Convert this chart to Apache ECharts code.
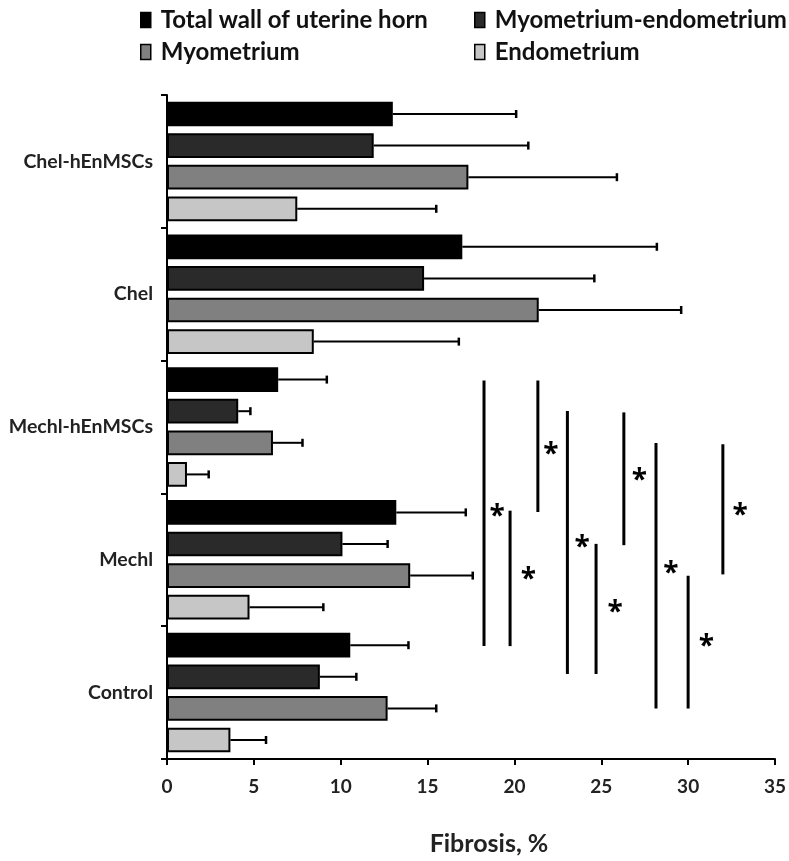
<!DOCTYPE html>
<html>
<head>
<meta charset="utf-8">
<script src="https://cdn.jsdelivr.net/npm/echarts@6/dist/echarts.min.js"></script>
<style>
  html, body { margin: 0; padding: 0; background: #fff; }
  #chart-container { width: 789px; height: 861px; }
</style>
</head>
<body>
<div id="chart-container"></div>
<script>
// groups, bottom to top as the axis draws them
const groups = ['Control', 'Mechl', 'Mechl-hEnMSCs', 'Chel', 'Chel-hEnMSCs'];
const seriesNames = ['Total wall of uterine horn', 'Myometrium-endometrium', 'Myometrium', 'Endometrium'];
const colors = ['#000000', '#2a2a2a', '#808080', '#c6c6c6'];

// mean fibrosis, % (same order as groups)
const totalWall = [10.55, 13.2, 6.4, 17.0, 13.0];
const myoEndo = [8.8, 10.1, 4.1, 14.8, 11.9];
const myometrium = [12.7, 14.0, 6.1, 21.4, 17.35];
const endometrium = [3.65, 4.75, 1.15, 8.45, 7.5];

// upper end of error bar
const totalWallErr = [13.9, 17.2, 9.2, 28.2, 20.1];
const myoEndoErr = [10.9, 12.7, 4.8, 24.6, 20.8];
const myometriumErr = [15.5, 17.6, 7.8, 29.6, 25.9];
const endometriumErr = [5.7, 9.0, 2.4, 16.8, 15.5];

const xTicks = [0, 5, 10, 15, 20, 25, 30, 35];

// significance brackets: [x, yFrom, yTo] on a 0..5 group scale
const sigLines = [
    [18.25, 0.85, 2.85],
    [19.75, 0.85, 1.87],
    [21.35, 1.86, 2.85],
    [23.05, 0.64, 2.62],
    [24.7, 0.64, 1.62],
    [26.3, 1.61, 2.61],
    [28.15, 0.38, 2.38],
    [30.0, 0.38, 1.38],
    [32.0, 1.39, 2.37]
];
const sigStars = [
    [19.0, 1.85], [20.8, 1.38], [22.1, 2.32], [23.9, 1.62], [25.8, 1.13],
    [27.2, 2.12], [29.0, 1.42], [31.05, 0.87], [33.0, 1.86]
];

const means = [totalWall, myoEndo, myometrium, endometrium];
const errs = [totalWallErr, myoEndoErr, myometriumErr, endometriumErr];

const catGap = 0.1;
const barGap = 0.28;

const errData = [];
errs.forEach((arr, s) => {
    arr.forEach((v, i) => errData.push([v, i, s, means[s][i]]));
});

const myChart = echarts.init(document.getElementById('chart-container'));

const series = [];
seriesNames.forEach((name, s) => {
    series.push({
        name: name,
        type: 'bar',
        data: means[s],
        barCategoryGap: (catGap * 100) + '%',
        barGap: (barGap * 100) + '%',
        itemStyle: { color: colors[s], borderColor: '#000', borderWidth: 2 },
        z: 2
    });
});

series.push({
    type: 'custom',
    name: 'err',
    data: errData,
    z: 3,
    silent: true,
    renderItem: function (params, api) {
        const end = api.value(0), cat = api.value(1), s = api.value(2), m = api.value(3);
        const band = api.size([0, 1])[1];
        const bw = band * (1 - catGap) / (4 + 3 * barGap);
        const total = 4 * bw + 3 * bw * barGap;
        const p0 = api.coord([m, cat]);
        const p1 = api.coord([end, cat]);
        const y = p0[1] - total / 2 + s * bw * (1 + barGap) + bw / 2;
        return {
            type: 'group',
            children: [
                { type: 'line', shape: { x1: p0[0], y1: y, x2: p1[0], y2: y }, style: { stroke: '#000', lineWidth: 2 } },
                { type: 'line', shape: { x1: p1[0], y1: y - 4, x2: p1[0], y2: y + 4 }, style: { stroke: '#000', lineWidth: 2.5 } }
            ]
        };
    }
});

series.push({
    type: 'custom',
    name: 'sig',
    yAxisIndex: 1,
    data: sigLines,
    silent: true,
    renderItem: function (params, api) {
        const a = api.coord([api.value(0), api.value(1)]);
        const b = api.coord([api.value(0), api.value(2)]);
        return { type: 'line', shape: { x1: a[0], y1: a[1], x2: b[0], y2: b[1] }, style: { stroke: '#000', lineWidth: 3 } };
    }
});

series.push({
    type: 'custom',
    name: 'stars',
    yAxisIndex: 1,
    data: sigStars,
    silent: true,
    renderItem: function (params, api) {
        const p = api.coord([api.value(0), api.value(1)]);
        return {
            type: 'text',
            x: p[0], y: p[1] + 4,
            style: { text: '*', fill: '#000', font: 'bold 28px "Open Sans"', align: 'center', verticalAlign: 'middle' }
        };
    }
});

const legendText = { fontFamily: 'Lato', fontWeight: 'bold', fontSize: 24, color: '#111', padding: [0, 0, 0, 5] };

const option = {
    animation: false,
    backgroundColor: '#fff',
    legend: [
        {
            data: [seriesNames[0], seriesNames[2]],
            orient: 'vertical', left: 135, top: 3, itemGap: 8,
            itemWidth: 10, itemHeight: 15, icon: 'rect',
            itemStyle: { borderColor: '#000', borderWidth: 1.5 },
            textStyle: legendText
        },
        {
            data: [seriesNames[1], seriesNames[3]],
            orient: 'vertical', left: 469, top: 3, itemGap: 8,
            itemWidth: 10, itemHeight: 15, icon: 'rect',
            itemStyle: { borderColor: '#000', borderWidth: 1.5 },
            textStyle: legendText
        }
    ],
    grid: { left: 167, right: 13, top: 95, bottom: 92, containLabel: false },
    xAxis: {
        type: 'value',
        min: xTicks[0],
        max: xTicks[xTicks.length - 1],
        interval: 5,
        name: 'Fibrosis, %',
        nameLocation: 'middle',
        nameGap: 72,
        nameTextStyle: { fontFamily: 'Lato', fontWeight: 'bold', fontSize: 25, color: '#222', padding: [0, 0, 0, 36] },
        axisLine: { show: true, lineStyle: { color: '#000', width: 2 } },
        axisTick: { show: true, length: 6, lineStyle: { color: '#000', width: 2 } },
        axisLabel: { fontFamily: 'Lato', fontWeight: 'bold', fontSize: 19, color: '#222', margin: 18 },
        splitLine: { show: false }
    },
    yAxis: [
        {
            type: 'category',
            data: groups,
            axisLine: { show: true, lineStyle: { color: '#000', width: 2 } },
            axisTick: { show: true, length: 6, lineStyle: { color: '#000', width: 2 } },
            axisLabel: { fontFamily: 'Lato', fontWeight: 'bold', fontSize: 19.5, color: '#222', margin: 14 }
        },
        {
            type: 'value',
            min: 0, max: 5,
            show: false
        }
    ],
    series: series
};

option && myChart.setOption(option);
</script>
</body>
</html>
